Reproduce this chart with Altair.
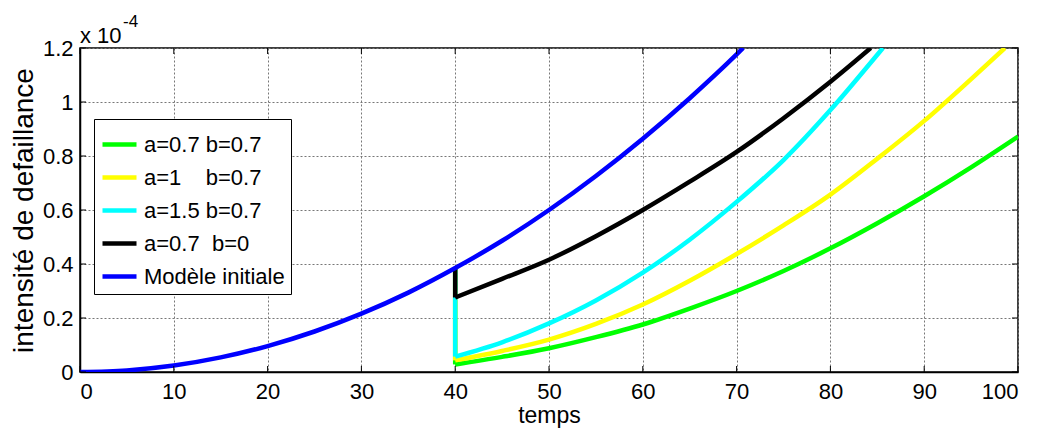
import altair as alt
import pandas as pd

FONT = "Liberation Sans"

# ---- data (y in units of 1e-4) ----
t_init = [0, 5, 10, 15, 20, 25, 30, 35, 40, 45, 50, 55, 60, 65, 70, 70.7]
y_init = [0, 0.006, 0.024, 0.054, 0.096, 0.15, 0.216, 0.294, 0.385, 0.486, 0.60, 0.726, 0.864, 1.014, 1.176, 1.2]

# value of the initial model at the repair time (top of each drop)
y_drop_top = 0.385

t_green = [40, 45, 50, 55, 60, 65, 70, 75, 80, 85, 90, 95, 100]
y_green = [0.028, 0.056, 0.088, 0.129, 0.176, 0.235, 0.30, 0.374, 0.458, 0.551, 0.651, 0.758, 0.872]

t_yellow = [40, 45, 50, 55, 60, 65, 70, 75, 80, 85, 90, 95, 98.6]
y_yellow = [0.043, 0.078, 0.12, 0.178, 0.25, 0.338, 0.437, 0.543, 0.657, 0.79, 0.93, 1.085, 1.2]

t_cyan = [40, 45, 50, 55, 60, 65, 70, 75, 80, 85, 85.6]
y_cyan = [0.057, 0.11, 0.18, 0.265, 0.368, 0.49, 0.63, 0.785, 0.97, 1.175, 1.2]

t_black = [40, 45, 50, 55, 60, 65, 70, 75, 80, 84.3]
y_black = [0.276, 0.345, 0.416, 0.503, 0.60, 0.705, 0.815, 0.94, 1.075, 1.2]

names = ["a=0.7 b=0.7", "a=1\u00a0\u00a0\u00a0\u00a0b=0.7", "a=1.5 b=0.7",
         "a=0.7\u00a0\u00a0b=0", "Mod\u00e8le initiale"]
colors = ["#00ff00", "#ffff00", "#00ffff", "#000000", "#0000ff"]

x_ticks = [0, 10, 20, 30, 40, 50, 60, 70, 80, 90, 100]
y_ticks = [0, 0.2, 0.4, 0.6, 0.8, 1.0, 1.2]

series = [(names[0], t_green, y_green), (names[1], t_yellow, y_yellow),
          (names[2], t_cyan, y_cyan), (names[3], t_black, y_black),
          (names[4], t_init, y_init)]

W, H = 938, 324

xscale = alt.Scale(domain=[0, 100], nice=False, zero=False)
yscale = alt.Scale(domain=[0, 1.2], nice=False, zero=False)
xaxis = alt.Axis(values=x_ticks, title="temps", grid=True, tickSize=0,
                 labelPadding=9, titlePadding=2, titleFontSize=23)
yaxis = alt.Axis(values=y_ticks, title="intensit\u00e9 de defaillance", grid=True,
                 tickSize=0, format="~g", labelPadding=7, titlePadding=4,
                 titleFontSize=28)

X = alt.X("t:Q", scale=xscale, axis=xaxis)
Y = alt.Y("y:Q", scale=yscale, axis=yaxis)
color = alt.Color("s:N", scale=alt.Scale(domain=names, range=colors),
                  legend=alt.Legend(title=None, orient="none", legendX=14, legendY=71,
                                    strokeColor="black", fillColor="white",
                                    padding=6, symbolType="stroke",
                                    symbolStrokeWidth=4.5, symbolSize=1156,
                                    labelFontSize=22, labelFont=FONT,
                                    labelColor="black", labelOffset=5,
                                    labelLimit=0, rowPadding=2))

layers = []
for (name, ts, ys), col in zip(series, colors):
    d = pd.DataFrame({"s": name, "t": ts, "y": ys})
    if name != names[4]:
        dd = pd.DataFrame({"t": [ts[0]], "y": [ys[0]], "y2": [y_drop_top]})
        layers.append(
            alt.Chart(dd).mark_rule(strokeWidth=4.5, color=col).encode(
                x=X, y=Y, y2="y2:Q")
        )
    layers.append(
        alt.Chart(d).mark_line(strokeWidth=4.5, clip=True, interpolate="monotone")
        .encode(x=X, y=Y, color=color)
    )

xt = pd.DataFrame({"t": x_ticks})
yt = pd.DataFrame({"y": y_ticks})
tick_bottom = alt.Chart(xt).mark_rule(color="black", strokeWidth=1).encode(
    x=X, y=alt.value(H), y2=alt.value(H - 6))
tick_top = alt.Chart(xt).mark_rule(color="black", strokeWidth=1).encode(
    x=X, y=alt.value(0), y2=alt.value(6))
tick_left = alt.Chart(yt).mark_rule(color="black", strokeWidth=1).encode(
    y=Y, x=alt.value(0), x2=alt.value(6))
tick_right = alt.Chart(yt).mark_rule(color="black", strokeWidth=1).encode(
    y=Y, x=alt.value(W), x2=alt.value(W - 6))

one = pd.DataFrame({"a": [0]})
exp_main = alt.Chart(one).mark_text(align="left", baseline="alphabetic",
                                    font=FONT, fontSize=22, color="black").encode(
    x=alt.value(0), y=alt.value(-5), text=alt.value("x 10"))
exp_sup = alt.Chart(one).mark_text(align="left", baseline="alphabetic",
                                   font=FONT, fontSize=17, color="black").encode(
    x=alt.value(43), y=alt.value(-21), text=alt.value("-4"))

chart = alt.layer(*layers, tick_bottom, tick_top, tick_left, tick_right,
                  exp_main, exp_sup).properties(
    width=W, height=H,
    padding={"left": 72, "top": 40, "right": 14, "bottom": 56},
    autosize="none",
    background="white",
).configure_view(stroke="black", strokeWidth=1.5).configure_axis(
    labelFont=FONT, titleFont=FONT, labelFontSize=22, labelColor="black",
    titleColor="black", titleFontWeight="normal", domainColor="black",
    domainWidth=1.5, gridColor="#777777", gridDash=[2, 2], gridWidth=1,
    gridOpacity=1,
)

chart.save("out.html", embed_options={"renderer": "svg", "actions": False})
